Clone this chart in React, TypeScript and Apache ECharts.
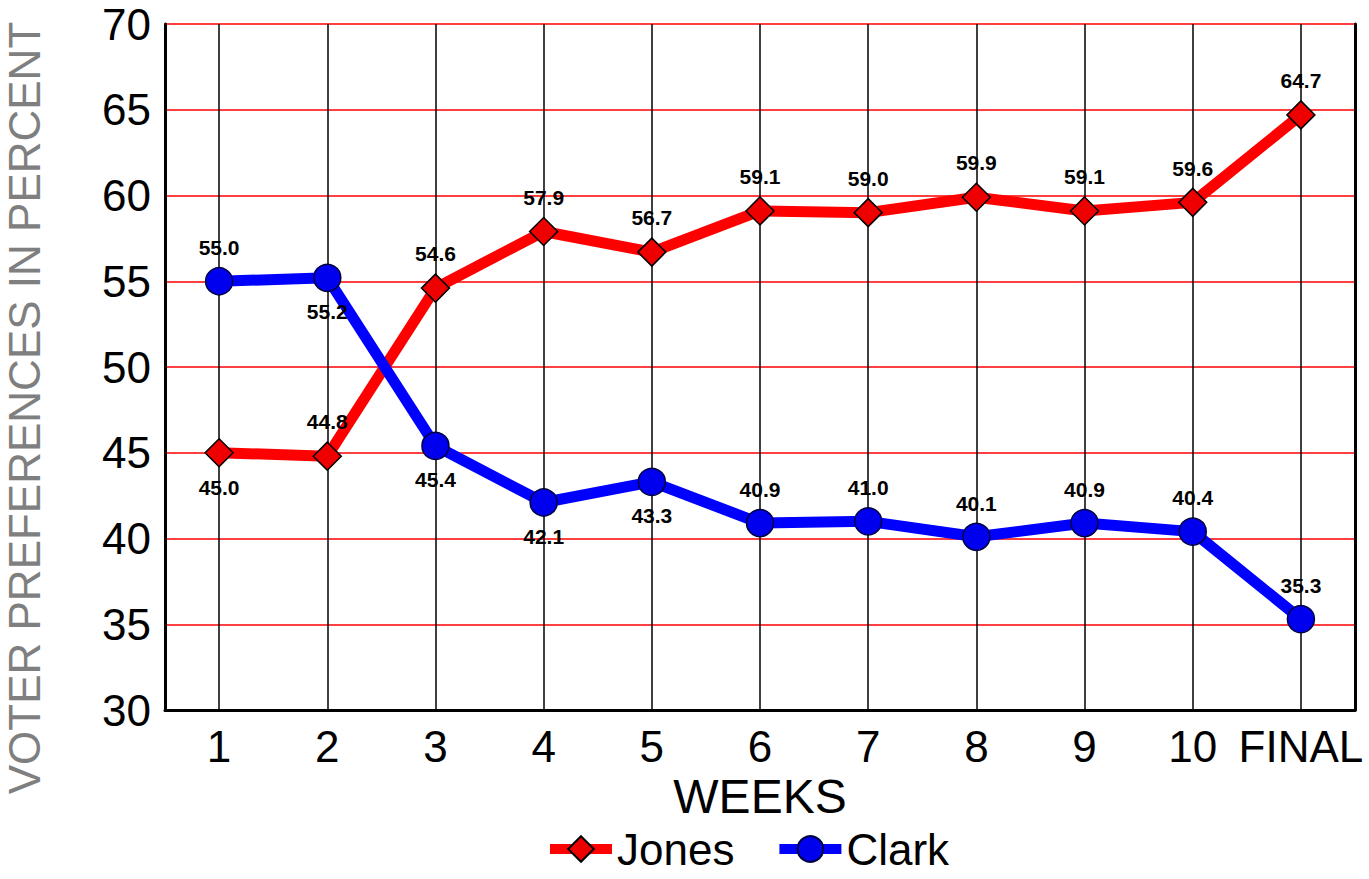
import React, { useEffect, useRef } from "react";
import * as echarts from "echarts";

const weeks = ["1", "2", "3", "4", "5", "6", "7", "8", "9", "10", "FINAL"];
const jones = [45.0, 44.8, 54.6, 57.9, 56.7, 59.1, 59.0, 59.9, 59.1, 59.6, 64.7];
const clark = [55.0, 55.2, 45.4, 42.1, 43.3, 40.9, 41.0, 40.1, 40.9, 40.4, 35.3];
const jonesLabelPos = ["bottom", "top", "top", "top", "top", "top", "top", "top", "top", "top", "top"];
const clarkLabelPos = ["top", "bottom", "bottom", "bottom", "bottom", "top", "top", "top", "top", "top", "top"];
const yTicks = { min: 30, max: 70, interval: 5 };

const FONT = "'Liberation Sans', Arial, sans-serif";

export default function App() {
  const ref = useRef<HTMLDivElement>(null);
  useEffect(() => {
    document.body.style.margin = "0";
    if (!ref.current) return;
    const chart = echarts.init(ref.current, undefined, { renderer: "svg" });
    const labelBase = {
      show: true,
      fontSize: 21,
      fontWeight: "bold",
      color: "#000",
      fontFamily: FONT,
      distance: 9,
      formatter: (p: any) => Number(p.value).toFixed(1),
    };
    chart.setOption({
      animation: false,
      backgroundColor: "#fff",
      textStyle: { fontFamily: FONT },
      grid: { left: 165, right: 14, top: 24, bottom: 169, containLabel: false },
      legend: {
        data: ["Jones", "Clark"],
        left: 540,
        top: 820,
        itemWidth: 62,
        itemHeight: 32,
        itemGap: 40,
        lineStyle: { width: 10 },
        textStyle: { fontSize: 44, color: "#000", fontFamily: FONT, lineHeight: 48 },
      },
      graphic: [
        {
          type: "text",
          x: 24,
          y: 408,
          rotation: Math.PI / 2,
          style: {
            text: "VOTER PREFERENCES IN PERCENT",
            fontSize: 44,
            fontFamily: FONT,
            fill: "#7f7f7f",
            align: "center",
            verticalAlign: "middle",
          },
        },
      ],
      xAxis: {
        type: "category",
        data: weeks,
        boundaryGap: true,
        axisLine: { show: true, lineStyle: { color: "#000", width: 3 } },
        axisTick: {
          show: true,
          alignWithLabel: true,
          interval: 0,
          inside: true,
          length: 686,
          lineStyle: { color: "#000", width: 1.5 },
        },
        axisLabel: { interval: 0, fontSize: 44, color: "#000", margin: 14, fontFamily: FONT },
        splitLine: { show: false },
        name: "WEEKS",
        nameLocation: "middle",
        nameGap: 58,
        nameTextStyle: { fontSize: 48, color: "#000", fontFamily: FONT },
      },
      yAxis: [
        {
          type: "value",
          min: yTicks.min,
          max: yTicks.max,
          interval: yTicks.interval,
          axisLine: { show: true, lineStyle: { color: "#000", width: 3 } },
          axisTick: { show: false },
          axisLabel: { fontSize: 44, color: "#000", margin: 14, fontFamily: FONT },
          splitLine: { show: true, lineStyle: { color: "#ff0000", width: 1.5 } },
        },
        {
          type: "value",
          position: "right",
          min: yTicks.min,
          max: yTicks.max,
          interval: yTicks.interval,
          axisLine: { show: true, lineStyle: { color: "#000", width: 3 } },
          axisTick: { show: false },
          axisLabel: { show: false },
          splitLine: { show: false },
        },
      ],
      series: [
        {
          name: "Jones",
          type: "line",
          data: jones.map((v, i) => ({ value: v, label: { position: jonesLabelPos[i] } })),
          symbol: "diamond",
          symbolSize: 28,
          lineStyle: { color: "#ff0000", width: 11 },
          itemStyle: { color: "#ee0000", borderColor: "#000", borderWidth: 1.5 },
          label: labelBase,
          z: 3,
        },
        {
          name: "Clark",
          type: "line",
          data: clark.map((v, i) => ({ value: v, label: { position: clarkLabelPos[i] } })),
          symbol: "circle",
          symbolSize: 27,
          lineStyle: { color: "#0000ff", width: 11 },
          itemStyle: { color: "#0000ee", borderColor: "#000040", borderWidth: 1.5 },
          label: labelBase,
          z: 4,
        },
      ],
    });
    return () => chart.dispose();
  }, []);
  return <div ref={ref} style={{ width: 1369, height: 879 }} />;
}
